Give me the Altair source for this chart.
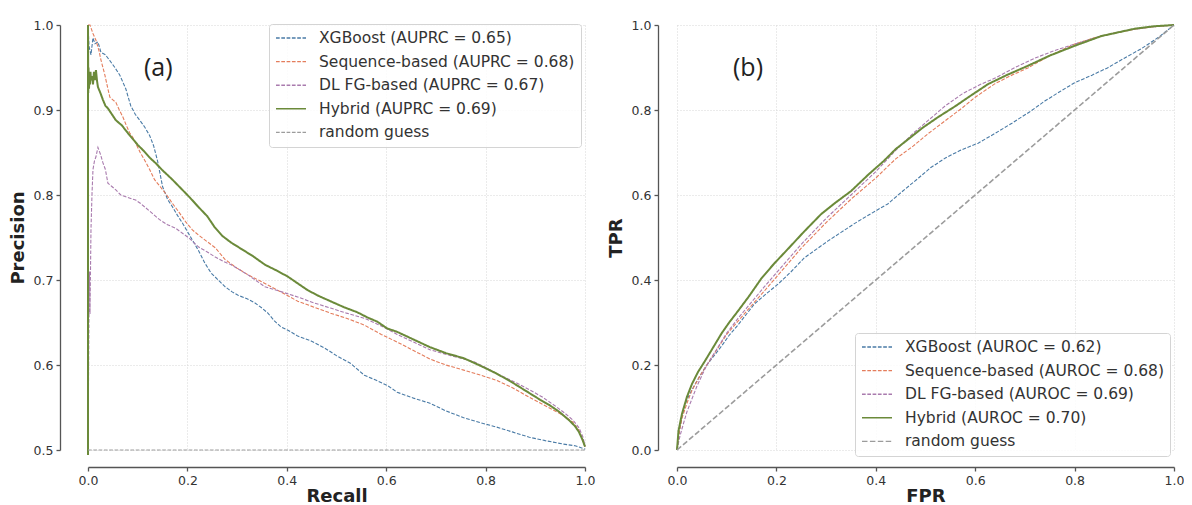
import altair as alt
import pandas as pd

# ---------------- data ----------------
pr_models = ["XGBoost (AUPRC = 0.65)", "Sequence-based (AUPRC = 0.68)",
             "DL FG-based (AUPRC = 0.67)", "Hybrid (AUPRC = 0.69)", "random guess"]
roc_models = ["XGBoost (AUROC = 0.62)", "Sequence-based (AUROC = 0.68)",
              "DL FG-based (AUROC = 0.69)", "Hybrid (AUROC = 0.70)", "random guess"]

# Precision-recall curves
xgb_recall = [0.0, 0.002, 0.006, 0.010, 0.014, 0.020, 0.026, 0.035, 0.044, 0.054, 0.064, 0.076,
              0.086, 0.095, 0.104, 0.114, 0.124, 0.132, 0.140, 0.150, 0.160, 0.170, 0.180, 0.190,
              0.205, 0.222, 0.235, 0.248, 0.262, 0.276, 0.290, 0.302, 0.320, 0.336, 0.350, 0.362,
              0.375, 0.388, 0.405, 0.422, 0.45, 0.476, 0.50, 0.528, 0.556, 0.58, 0.602, 0.622,
              0.655, 0.688, 0.72, 0.756, 0.79, 0.822, 0.855, 0.888, 0.92, 0.956, 0.98, 1.0]
xgb_precision = [1.0, 0.975, 0.965, 0.985, 0.978, 0.98, 0.968, 0.965, 0.958, 0.95, 0.941, 0.925,
                 0.905, 0.895, 0.888, 0.88, 0.87, 0.858, 0.84, 0.81, 0.795, 0.786, 0.776, 0.767,
                 0.752, 0.735, 0.72, 0.708, 0.70, 0.692, 0.686, 0.682, 0.678, 0.673, 0.667, 0.661,
                 0.652, 0.645, 0.64, 0.634, 0.628, 0.62, 0.611, 0.602, 0.588, 0.582, 0.576, 0.568,
                 0.561, 0.555, 0.546, 0.538, 0.532, 0.527, 0.521, 0.515, 0.511, 0.507, 0.505, 0.501]

seq_recall = [0.0, 0.004, 0.010, 0.016, 0.022, 0.026, 0.030, 0.034, 0.040, 0.044, 0.050, 0.056,
              0.063, 0.070, 0.077, 0.084, 0.090, 0.096, 0.105, 0.114, 0.124, 0.134, 0.145, 0.156,
              0.170, 0.184, 0.197, 0.21, 0.222, 0.24, 0.256, 0.276, 0.30, 0.322, 0.356, 0.388,
              0.422, 0.455, 0.488, 0.52, 0.556, 0.59, 0.622, 0.655, 0.688, 0.72, 0.756, 0.79,
              0.822, 0.855, 0.888, 0.92, 0.956, 0.975, 0.988, 1.0]
seq_precision = [1.0, 1.0, 0.99, 0.982, 0.97, 0.959, 0.95, 0.941, 0.925, 0.915, 0.912, 0.909,
                 0.90, 0.892, 0.882, 0.873, 0.868, 0.861, 0.85, 0.841, 0.83, 0.818, 0.81, 0.802,
                 0.79, 0.779, 0.768, 0.759, 0.753, 0.745, 0.738, 0.724, 0.714, 0.706, 0.696, 0.686,
                 0.675, 0.668, 0.661, 0.655, 0.647, 0.636, 0.627, 0.617, 0.607, 0.600, 0.594, 0.588,
                 0.582, 0.573, 0.562, 0.552, 0.541, 0.533, 0.523, 0.504]

dl_recall = [0.0, 0.001, 0.002, 0.003, 0.004, 0.006, 0.008, 0.010, 0.013, 0.016, 0.020, 0.025,
             0.030, 0.035, 0.040, 0.048, 0.056, 0.066, 0.076, 0.086, 0.096, 0.106, 0.116, 0.13,
             0.144, 0.16, 0.176, 0.19, 0.204, 0.222, 0.24, 0.256, 0.272, 0.288, 0.305, 0.322,
             0.356, 0.39, 0.422, 0.455, 0.488, 0.52, 0.556, 0.59, 0.622, 0.655, 0.688, 0.73,
             0.776, 0.80, 0.822, 0.855, 0.888, 0.915, 0.942, 0.96, 0.976, 0.988, 0.996, 1.0]
dl_precision = [0.50, 0.58, 0.66, 0.71, 0.66, 0.76, 0.80, 0.83, 0.84, 0.845, 0.856, 0.848,
                0.838, 0.83, 0.814, 0.81, 0.806, 0.80, 0.798, 0.796, 0.794, 0.79, 0.785, 0.778,
                0.771, 0.765, 0.761, 0.755, 0.749, 0.739, 0.733, 0.727, 0.722, 0.718, 0.712, 0.706,
                0.692, 0.686, 0.68, 0.673, 0.667, 0.661, 0.655, 0.646, 0.636, 0.627, 0.618, 0.611,
                0.604, 0.597, 0.590, 0.581, 0.571, 0.562, 0.551, 0.543, 0.535, 0.526, 0.515, 0.504]

hy_recall = [0.0, 0.0, 0.0005, 0.001, 0.002, 0.003, 0.004, 0.005, 0.006, 0.008, 0.010, 0.012,
             0.014, 0.016, 0.018, 0.020, 0.025, 0.030, 0.035, 0.040, 0.048, 0.056, 0.068, 0.08,
             0.09, 0.10, 0.112, 0.124, 0.137, 0.15, 0.17, 0.19, 0.205, 0.222, 0.24, 0.255, 0.27,
             0.288, 0.31, 0.332, 0.356, 0.38, 0.402, 0.422, 0.442, 0.465, 0.488, 0.515, 0.542,
             0.562, 0.582, 0.602, 0.622, 0.655, 0.688, 0.72, 0.756, 0.79, 0.822, 0.855, 0.888,
             0.91, 0.928, 0.948, 0.968, 0.98, 0.988, 0.995, 1.0]
hy_precision = [0.494, 1.0, 0.92, 0.95, 0.925, 0.94, 0.93, 0.945, 0.935, 0.94, 0.93, 0.945,
                0.935, 0.947, 0.935, 0.927, 0.92, 0.912, 0.905, 0.902, 0.895, 0.888, 0.882, 0.873,
                0.866, 0.859, 0.852, 0.844, 0.837, 0.829, 0.818, 0.806, 0.797, 0.786, 0.775, 0.762,
                0.752, 0.744, 0.736, 0.728, 0.718, 0.711, 0.704, 0.696, 0.688, 0.681, 0.675, 0.668,
                0.662, 0.656, 0.651, 0.643, 0.639, 0.630, 0.621, 0.614, 0.608, 0.599, 0.590, 0.579,
                0.567, 0.559, 0.553, 0.545, 0.535, 0.528, 0.521, 0.512, 0.504]

pr_random_x = [0.0, 1.0]
pr_random_y = [0.5, 0.5]

# ROC curves
xgb_fpr = [0, 0.003, 0.006, 0.01, 0.016, 0.025, 0.035, 0.045, 0.056, 0.07, 0.09, 0.105, 0.124,
           0.14, 0.156, 0.18, 0.204, 0.23, 0.256, 0.28, 0.304, 0.33, 0.356, 0.39, 0.424, 0.455,
           0.486, 0.51, 0.54, 0.57, 0.606, 0.64, 0.674, 0.71, 0.74, 0.77, 0.8, 0.835, 0.866,
           0.9, 0.934, 0.97, 1.0]
xgb_tpr = [0, 0.03, 0.052, 0.08, 0.108, 0.13, 0.152, 0.172, 0.193, 0.215, 0.245, 0.27, 0.296,
           0.32, 0.344, 0.368, 0.391, 0.42, 0.452, 0.472, 0.492, 0.512, 0.532, 0.556, 0.579,
           0.61, 0.64, 0.664, 0.687, 0.705, 0.722, 0.745, 0.769, 0.796, 0.821, 0.843, 0.864,
           0.882, 0.899, 0.922, 0.944, 0.972, 1.0]

seq_fpr = [0, 0.005, 0.01, 0.02, 0.03, 0.045, 0.06, 0.08, 0.1, 0.125, 0.15, 0.175, 0.2, 0.25,
           0.3, 0.35, 0.4, 0.44, 0.475, 0.506, 0.54, 0.574, 0.6, 0.64, 0.67, 0.706, 0.75, 0.8,
           0.84, 0.88, 0.92, 0.96, 1.0]
seq_tpr = [0, 0.045, 0.075, 0.11, 0.14, 0.172, 0.2, 0.236, 0.272, 0.306, 0.34, 0.373, 0.407,
           0.475, 0.535, 0.59, 0.64, 0.685, 0.715, 0.745, 0.775, 0.805, 0.83, 0.862, 0.88, 0.899,
           0.928, 0.955, 0.97, 0.981, 0.99, 0.996, 1.0]

dl_fpr = [0, 0.005, 0.01, 0.02, 0.03, 0.04, 0.06, 0.08, 0.1, 0.125, 0.15, 0.175, 0.2, 0.25, 0.3,
          0.35, 0.4, 0.44, 0.475, 0.506, 0.54, 0.574, 0.61, 0.64, 0.68, 0.72, 0.76, 0.8, 0.85,
          0.9, 0.95, 1.0]
dl_tpr = [0, 0.028, 0.05, 0.09, 0.12, 0.15, 0.2, 0.237, 0.275, 0.313, 0.348, 0.383, 0.417,
          0.484, 0.545, 0.6, 0.655, 0.705, 0.745, 0.776, 0.81, 0.838, 0.86, 0.875, 0.9, 0.922,
          0.94, 0.955, 0.973, 0.986, 0.995, 1.0]

hy_fpr = [0, 0.003, 0.01, 0.02, 0.03, 0.042, 0.056, 0.07, 0.09, 0.105, 0.124, 0.145, 0.17,
          0.195, 0.224, 0.255, 0.29, 0.32, 0.35, 0.385, 0.416, 0.44, 0.465, 0.494, 0.525, 0.56,
          0.59, 0.626, 0.665, 0.706, 0.75, 0.8, 0.854, 0.92, 0.96, 1.0]
hy_tpr = [0, 0.045, 0.085, 0.125, 0.155, 0.183, 0.209, 0.236, 0.275, 0.3, 0.329, 0.362, 0.404,
          0.438, 0.474, 0.513, 0.555, 0.583, 0.609, 0.648, 0.68, 0.708, 0.731, 0.758, 0.783,
          0.809, 0.833, 0.861, 0.883, 0.904, 0.928, 0.951, 0.974, 0.991, 0.997, 1.0]

roc_random_x = [0.0, 1.0]
roc_random_y = [0.0, 1.0]

x_ticks = [0.0, 0.2, 0.4, 0.6, 0.8, 1.0]
pr_y_ticks = [0.5, 0.6, 0.7, 0.8, 0.9, 1.0]
roc_y_ticks = [0.0, 0.2, 0.4, 0.6, 0.8, 1.0]

colors = ["#4a7ba6", "#e47d5c", "#a97bae", "#6b8a3a", "#9c9c9c"]


def long_frame(models, series):
    rows = []
    for m, (xs, ys) in zip(models, series):
        for i, (a, b) in enumerate(zip(xs, ys)):
            rows.append({"model": m, "x": a, "y": b, "idx": i})
    return pd.DataFrame(rows)


pr_df = long_frame(pr_models, [(xgb_recall, xgb_precision), (seq_recall, seq_precision),
                               (dl_recall, dl_precision), (hy_recall, hy_precision),
                               (pr_random_x, pr_random_y)])
roc_df = long_frame(roc_models, [(xgb_fpr, xgb_tpr), (seq_fpr, seq_tpr), (dl_fpr, dl_tpr),
                                 (hy_fpr, hy_tpr), (roc_random_x, roc_random_y)])

W, H = 497, 425


def panel(df, models, xtitle, ytitle, ydomain, yticks, yoffset, lx, ly, label,
          rand_w, rand_dash):
    thin = [3.7, 1.6]
    dashes = [thin, thin, thin, [1, 0], rand_dash]
    hyb = models[3]
    rnd = models[4]
    legend = alt.Legend(
        title=None, orient="none", legendX=lx, legendY=ly,
        symbolType="stroke", symbolSize=900, symbolStrokeWidth=1.4,
        labelFontSize=15.5, labelFont="DejaVu Sans", labelColor="#333333", labelLimit=0,
        labelOffset=12, clipHeight=16, rowPadding=6.6, padding=6,
        strokeColor="#d4d4d4", fillColor="rgba(255,255,255,0.85)", cornerRadius=3,
    )
    axis_common = dict(domain=True, ticks=True, domainColor="#555555", domainWidth=1.3,
                       tickColor="#555555", tickWidth=1.3, tickSize=4, format=".1f",
                       labelFlush=False, domainOpacity=1, tickOpacity=1)
    x_enc = alt.X("x:Q", scale=alt.Scale(domain=[0, 1], nice=False, zero=False),
                  axis=alt.Axis(values=x_ticks, title=xtitle, offset=17, **axis_common))
    y_enc = alt.Y("y:Q", scale=alt.Scale(domain=ydomain, nice=False, zero=False),
                  axis=alt.Axis(values=yticks, title=ytitle, offset=yoffset, **axis_common))
    return alt.Chart(df).mark_line().encode(
        x=x_enc,
        y=y_enc,
        color=alt.Color("model:N", scale=alt.Scale(domain=models, range=colors), legend=legend),
        strokeDash=alt.StrokeDash("model:N", scale=alt.Scale(domain=models, range=dashes),
                                  legend=legend),
        strokeWidth={"condition": [{"test": f"datum.model === '{hyb}'", "value": 2},
                                   {"test": f"datum.model === '{rnd}'", "value": rand_w}],
                     "value": 1.1},
        order="idx:Q",
    ).properties(
        width=W, height=H,
        title=alt.TitleParams(text=label, anchor="start", frame="group", orient="top",
                              offset=-74, dx=56, baseline="middle", align="left",
                              font="Open Sans", fontSize=25, fontWeight="normal",
                              color="#222222"),
    )


left = panel(pr_df, pr_models, "Recall", "Precision", [0.5, 1.0], pr_y_ticks, 28,
             181, -1, "(a)", 1.0, [3.7, 1.6])
right = panel(roc_df, roc_models, "FPR", "TPR", [0.0, 1.0], roc_y_ticks, 19,
              178, 308, "(b)", 1.6, [5.5, 2.4])

chart = alt.hconcat(left, right, spacing=12).resolve_scale(
    color="independent", strokeDash="independent", x="independent", y="independent"
).resolve_legend(color="independent", strokeDash="independent").properties(
    padding={"left": 1, "top": 11, "right": 0, "bottom": 0}
).configure_view(strokeOpacity=0).configure_axis(
    labelColor="#333333", labelFont="DejaVu Sans", labelFontSize=12.5, labelPadding=3,
    titleFont="DejaVu Sans", titleFontWeight="bold", titleFontSize=18, titleColor="#222222",
    gridColor="#d6d6d6", gridDash=[1, 2], gridWidth=1,
).configure_axisX(titlePadding=1).configure_axisY(titlePadding=6)

chart.save("out.html", embed_options={"renderer": "svg", "actions": False})
